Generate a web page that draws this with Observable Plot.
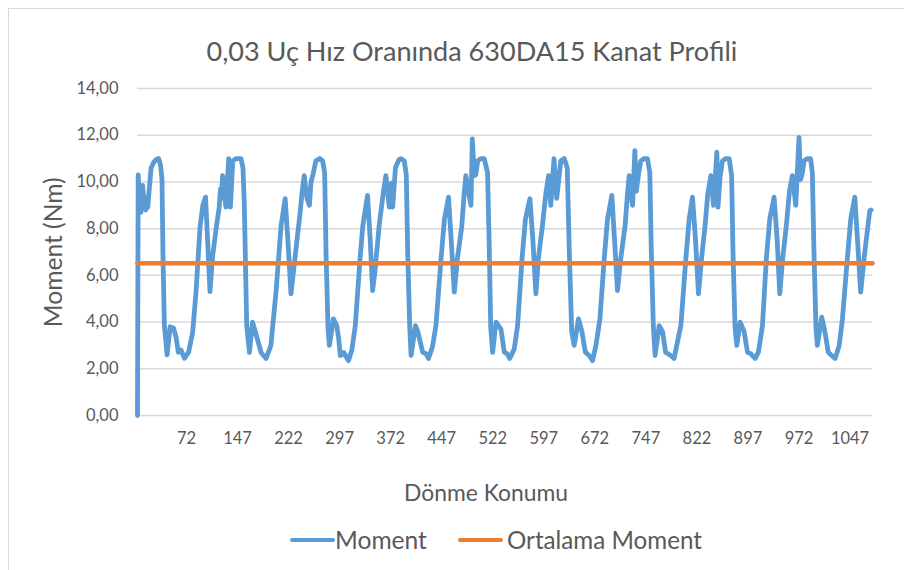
<!DOCTYPE html>
<html>
<head>
<meta charset="utf-8">
<script src="https://cdn.jsdelivr.net/npm/d3@7"></script>
<script src="https://cdn.jsdelivr.net/npm/@observablehq/plot@0.6"></script>
<style>
  html, body { margin: 0; padding: 0; background: #fff; }
  #chart { position: relative; width: 904px; height: 570px; overflow: hidden; font-family: Lato, "Open Sans", sans-serif; color: #595959; background: #fff; }
  #frame { position: absolute; left: 8px; top: 8px; width: 1000px; height: 1000px; border-left: 1px solid #d9d9d9; border-top: 1px solid #d9d9d9; box-sizing: border-box; }
  .t { position: absolute; white-space: nowrap; line-height: 1; }
  #plot { position: absolute; left: 0; top: 70px; }
  .sw { position: absolute; height: 4px; border-radius: 2px; }
</style>
</head>
<body>
<div id="chart">
  <div id="frame"></div>
  <div id="plot"></div>
  <span class="t" id="title"></span>
  <span class="t" id="xtitle"></span>
  <span class="t" id="ytitle"></span>
  <div class="sw" id="sw1"></div><span class="t" id="lg1"></span>
  <div class="sw" id="sw2"></div><span class="t" id="lg2"></span>
</div>
<script>
// ---- data ----
const titleText = "0,03 Uç Hız Oranında 630DA15 Kanat Profili";
const xTitle = "Dönme Konumu";
const yTitle = "Moment (Nm)";
const seriesNames = ["Moment", "Ortalama Moment"];
const xTickLabels = [72, 147, 222, 297, 372, 447, 522, 597, 672, 747, 822, 897, 972, 1047];
const yTicks = [0, 2, 4, 6, 8, 10, 12, 14];
const meanMoment = 6.52;
const angleRange = [0, 1080];

const angle = [
  0, 1, 3, 5, 7.5, 10, 12, 13.5, 15, 17, 20, 24, 27, 31, 34, 36, 37.5, 39.5, 43.5, 48, 53, 57, 60, 64, 69, 75, 81, 86, 92, 96, 100, 103, 106.5, 110.5, 116,
  120, 122, 123.5, 125, 127, 130, 134, 136.5, 140, 145, 152, 155, 157, 159, 160.5, 164.5, 169, 174, 181.5, 189, 196, 203.5, 211, 217, 221, 225.5, 232,
  239, 242, 245, 249, 252.6, 255, 257.5, 262, 268, 272, 275, 277, 280, 282, 287.8, 292.7, 295.6, 298, 303, 310, 315, 320, 327, 331, 338, 342, 345.5, 349, 355,
  361, 365, 370, 373, 375, 379, 384, 387, 392, 395, 397, 400, 402, 408.5, 411.8, 419, 424, 427.6, 433.5, 438.5, 446, 451, 457, 461, 465.5, 470, 476.5,
  480, 482.5, 486, 490, 492, 494.8, 497, 500, 504.5, 509.5, 514.4, 517, 519, 521.8, 526.8, 534, 539, 543, 547, 553.6, 558.5, 565, 570, 576.6, 581, 585.4, 589, 595,
  600, 604, 607.3, 612, 616, 622, 627, 631.5, 634.5, 638, 641.7, 648, 653, 658, 663.7, 668.6, 673.5, 679.4, 685.8, 690.6, 697, 701, 705.3, 710, 716.5,
  720, 722.5, 727.4, 730.8, 733, 736, 739.5, 744.5, 749.3, 752.8, 755, 758, 760.6, 766.5, 771.4, 776, 783.6, 788.5, 791, 798.4, 805.7, 810.6, 815.5, 820, 824.3, 828.7, 834,
  838, 842.5, 846.3, 851.3, 853, 856, 859.5, 864.5, 869.4, 873, 875, 878, 880.6, 885.5, 891.3, 896.3, 901, 907.5, 912.4, 918.3, 924, 929, 935.4, 940, 943.7, 948, 953.4,
  958, 962.3, 967.2, 972, 974.3, 977, 979.4, 984, 989, 991.6, 994, 997, 999, 1005.4, 1010, 1015, 1020, 1025, 1031, 1035.7, 1043, 1048, 1054, 1058, 1062.6, 1067.5, 1072, 1076, 1078
];
const moment = [
  0, 10.3, 9.2, 8.7, 9.85, 9.0, 8.8, 9.35, 8.9, 9.6, 10.6, 10.85, 10.95, 11.0, 10.7, 10.1, 6.7, 3.85, 2.6, 3.8, 3.75, 3.3, 2.7, 2.8, 2.45, 2.7, 3.55, 5.3, 8.1, 9.0, 9.35, 7.5, 5.3, 6.85, 8.1,
  8.9, 9.7, 9.3, 10.27, 9.6, 8.92, 11.0, 8.92, 10.9, 11.0, 11.0, 10.6, 9.0, 6.0, 3.85, 2.7, 4.0, 3.5, 2.7, 2.44, 3.0, 5.28, 8.13, 9.28, 7.5, 5.21, 6.9,
  8.7, 9.6, 10.27, 9.3, 9.0, 10.0, 10.27, 10.9, 11.0, 10.9, 10.4, 7.0, 3.7, 3.0, 4.14, 3.85, 3.3, 2.57, 2.7, 2.35, 2.8, 3.85, 6.7, 8.1, 9.42, 7.5, 5.35, 6.2, 8.1,
  9.5, 10.27, 8.92, 9.95, 8.92, 10.6, 10.95, 11.0, 10.9, 10.3, 7.0, 3.8, 2.57, 3.85, 3.6, 2.71, 2.65, 2.44, 2.95, 3.85, 6.7, 8.4, 9.35, 7.5, 5.28, 6.7, 8.1,
  9.5, 10.27, 9.6, 9.0, 11.84, 10.27, 10.3, 10.9, 11.0, 11.0, 10.4, 7.0, 3.8, 2.7, 4.0, 3.7, 2.71, 2.65, 2.44, 2.85, 3.85, 6.7, 8.4, 9.28, 7.5, 5.21, 6.7, 8.13,
  9.5, 10.27, 9.0, 11.0, 9.3, 10.9, 11.0, 10.6, 7.0, 3.6, 3.0, 4.14, 3.6, 2.71, 2.57, 2.35, 2.99, 4.1, 6.7, 8.4, 9.42, 7.5, 5.35, 6.7, 8.13,
  9.5, 10.27, 9.0, 11.34, 9.6, 10.3, 10.9, 11.0, 11.0, 10.4, 7.0, 3.8, 2.57, 3.85, 3.6, 2.71, 2.57, 2.44, 2.8, 3.85, 6.7, 8.4, 9.35, 7.5, 5.21, 6.7, 8.13,
  9.5, 10.27, 9.0, 11.27, 8.92, 10.2, 10.9, 11.0, 11.0, 10.27, 7.0, 3.8, 3.0, 4.0, 3.6, 2.71, 2.65, 2.44, 2.71, 3.85, 6.7, 8.4, 9.35, 7.5, 5.21, 6.7, 8.13,
  9.6, 10.27, 9.0, 11.91, 10.1, 10.4, 10.9, 11.0, 11.0, 10.4, 7.0, 3.7, 3.0, 4.21, 3.6, 2.71, 2.57, 2.44, 2.99, 4.1, 6.7, 8.4, 9.35, 7.5, 5.28, 6.7, 7.8, 8.78, 8.8
];

// ---- build ----
const blue = "#5b9bd5", orange = "#ed7d31", grid = "#d9d9d9", textCol = "#595959";
const data = angle.map((a, i) => ({a, m: moment[i]}));
const meanData = angleRange.map(a => ({a, m: meanMoment}));
const fmt = d => d.toFixed(2).replace(".", ",");

const plot = Plot.plot({
  width: 904,
  height: 400,
  marginLeft: 137,
  marginRight: 32,
  marginTop: 18,
  marginBottom: 55,
  style: {fontFamily: "Lato, 'Open Sans', sans-serif", color: textCol, background: "transparent", overflow: "visible"},
  x: {domain: angleRange},
  y: {domain: [0, 14]},
  marks: [
    Plot.gridY(yTicks, {stroke: grid, strokeOpacity: 1, strokeWidth: 1.5}),
    Plot.axisY(yTicks, {tickSize: 0, tickPadding: 19, tickFormat: fmt, fontSize: 16.5, fill: textCol, label: null}),
    Plot.axisX(xTickLabels, {tickSize: 0, tickPadding: 17, tickFormat: d => String(d), fontSize: 16.5, fill: textCol, label: null}),
    Plot.lineY(data, {x: "a", y: "m", stroke: blue, strokeWidth: 4.8, strokeLinejoin: "round", strokeLinecap: "round"}),
    Plot.lineY(meanData, {x: "a", y: "m", stroke: orange, strokeWidth: 4.5})
  ]
});
document.getElementById("plot").appendChild(plot);

function place(id, text, size, cx, cy, targetW, rotate) {
  const el = document.getElementById(id);
  el.textContent = text;
  el.style.fontSize = size + "px";
  const w0 = el.getBoundingClientRect().width;
  if (targetW) el.style.fontSize = (size * targetW / w0) + "px";
  const w = el.offsetWidth, h = el.offsetHeight;
  el.style.left = (cx - w / 2) + "px";
  el.style.top = (cy - h / 2) + "px";
  if (rotate) el.style.transform = "rotate(-90deg)";
}
place("title", titleText, 23, 472, 50, 531);
place("xtitle", xTitle, 20, 486, 492, 164);
place("ytitle", yTitle, 20, 53, 252, 150, true);
place("lg1", seriesNames[0], 22, 381, 540, 92);
place("lg2", seriesNames[1], 22, 604.5, 540, 195);
const sw1 = document.getElementById("sw1");
sw1.style.left = "290px"; sw1.style.top = "538px"; sw1.style.width = "45px"; sw1.style.background = blue;
const sw2 = document.getElementById("sw2");
sw2.style.left = "458px"; sw2.style.top = "538px"; sw2.style.width = "45px"; sw2.style.background = orange;
</script>
</body>
</html>
